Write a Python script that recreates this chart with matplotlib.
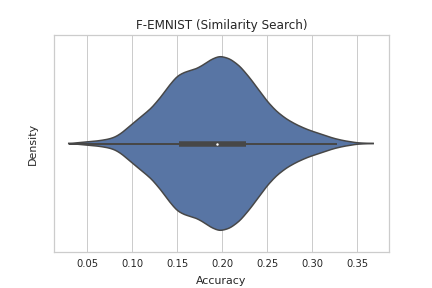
import numpy as np
import matplotlib
matplotlib.use("Agg")
import matplotlib.pyplot as plt

# Violin outline: accuracy position and relative density (max = 1)
acc_pts = [0.0292, 0.0500, 0.0618, 0.0729, 0.0804, 0.0878, 0.1000, 0.1101, 0.1212,
           0.1323, 0.1397, 0.1497, 0.1582, 0.1694, 0.1768, 0.1879, 0.1972, 0.2083,
           0.2194, 0.2305, 0.2416, 0.2498, 0.2602, 0.2714, 0.2825, 0.2936, 0.2998,
           0.3121, 0.3232, 0.3343, 0.3499, 0.3677]
dens_pts = [0.0, 0.020, 0.031, 0.049, 0.072, 0.118, 0.226, 0.310, 0.406,
            0.540, 0.647, 0.770, 0.816, 0.847, 0.885, 0.962, 1.0, 0.969,
            0.885, 0.751, 0.598, 0.483, 0.368, 0.279, 0.215, 0.164, 0.141,
            0.100, 0.061, 0.034, 0.008, 0.0]

# Box summary
q1, median, q3 = 0.1516, 0.1935, 0.2258
whisker_lo, whisker_hi = 0.0295, 0.3276

xticks = [0.05, 0.10, 0.15, 0.20, 0.25, 0.30, 0.35]
xtick_labels = ["0.05", "0.10", "0.15", "0.20", "0.25", "0.30", "0.35"]

fill_color = "#5875a4"
line_color = "#474747"
text_color = "#262626"

fig = plt.figure(figsize=(6, 4), dpi=72)
ax = fig.add_axes([54 / 432, 1 - 252 / 288, (389 - 54) / 432, (252 - 35) / 288])

# smooth outline
xs = np.linspace(acc_pts[0], acc_pts[-1], 800)
ys = np.interp(xs, acc_pts, dens_pts)
step = xs[1] - xs[0]
sig = 0.003 / step
k = np.arange(-int(4 * sig), int(4 * sig) + 1)
ker = np.exp(-0.5 * (k / sig) ** 2)
ker /= ker.sum()
pad = len(k) // 2
ys_p = np.concatenate([np.zeros(pad), ys, np.zeros(pad)])
ys = np.convolve(ys_p, ker, mode="valid")
ys = ys - np.linspace(ys[0], ys[-1], len(ys))
ys = np.clip(ys, 0, None)
hw = 0.4 * ys / ys.max()

ax.fill_between(xs, -hw, hw, facecolor=fill_color, edgecolor="none", zorder=2)
ax.plot(xs, hw, color=line_color, lw=1.5, zorder=3)
ax.plot(xs, -hw, color=line_color, lw=1.5, zorder=3)

ax.plot([whisker_lo, whisker_hi], [0, 0], color=line_color, lw=2, solid_capstyle="butt", zorder=4)
ax.plot([q1, q3], [0, 0], color=line_color, lw=5.5, solid_capstyle="butt", zorder=5)
ax.scatter([median], [0], s=6, color="white", zorder=6, linewidths=0)

ax.set_xlim(0.0128, 0.3853)
ax.set_ylim(0.5, -0.5)
ax.set_xticks(xticks)
ax.set_xticklabels(xtick_labels, fontsize=10, color=text_color)
ax.set_yticks([])
ax.grid(axis="x", color="#cccccc", lw=1, zorder=0)
ax.set_axisbelow(True)
for s in ax.spines.values():
    s.set_color("#cccccc")
    s.set_linewidth(1.25)
ax.tick_params(axis="x", length=0, pad=7)
ax.set_xlabel("Accuracy", fontsize=11, color=text_color, labelpad=7)
ax.set_ylabel("Density", fontsize=11, color=text_color, labelpad=16)
ax.set_title("F-EMNIST (Similarity Search)", fontsize=12, color=text_color, pad=6)

fig.savefig("out.png", dpi=72)
